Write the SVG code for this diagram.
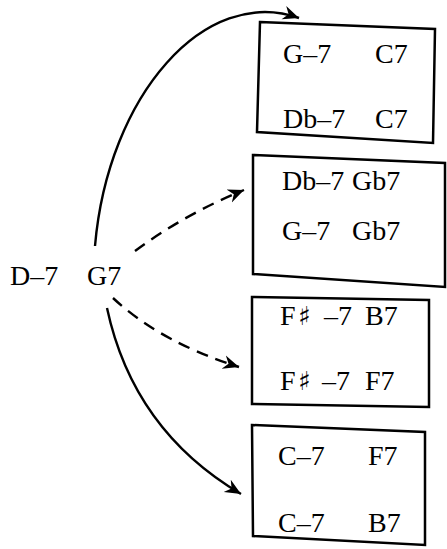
<svg xmlns="http://www.w3.org/2000/svg" width="447" height="549" viewBox="0 0 447 549">
<style>
  .t { font-family: "Liberation Serif", "Times New Roman", serif; font-size: 28px; fill: #000; }
  .sh { font-family: "DejaVu Serif", "DejaVu Sans", serif; font-weight: bold; font-size: 26px; }
  .box { fill: #fff; stroke: #000; stroke-width: 2.5; stroke-linejoin: miter; }
  .c { fill: none; stroke: #000; stroke-width: 2.4; }
  .d { stroke-dasharray: 12 8; }
</style>
<defs>
  <marker id="ah" markerUnits="userSpaceOnUse" markerWidth="20" markerHeight="16" refX="16" refY="7" orient="auto" viewBox="0 0 20 14">
    <path d="M0,0 L16,7 L0,14 L5,7 Z" fill="#000"/>
  </marker>
</defs>
<rect width="447" height="549" fill="#fff"/>
<g id="connectors">
  <path class="c" d="M95,246 C108,95 205,-15 299,18" marker-end="url(#ah)"/>
  <path class="c d" d="M135,251 Q185,214 244,190" marker-end="url(#ah)"/>
  <path class="c d" d="M113,298 Q160,342 239,367" marker-end="url(#ah)"/>
  <path class="c" d="M107,308 C125,392 170,452 241,494" marker-end="url(#ah)"/>
</g>
<g id="source">
  <text class="t" x="10" y="285">D–7</text>
  <text class="t" x="87" y="285">G7</text>
</g>
<g id="box1">
  <polygon class="box" points="260,22 435,29 433,143 257,132"/>
  <text class="t" x="283" y="63">G–7</text>
  <text class="t" x="375" y="63">C7</text>
  <text class="t" x="283" y="128">Db–7</text>
  <text class="t" x="375" y="128">C7</text>
</g>
<g id="box2">
  <polygon class="box" points="253,155 445,163 445,287 253,274"/>
  <text class="t" x="282" y="190">Db–7</text>
  <text class="t" x="352" y="190">Gb7</text>
  <text class="t" x="282" y="240">G–7</text>
  <text class="t" x="352" y="240">Gb7</text>
</g>
<g id="box3">
  <polygon class="box" points="252,297 429,300 429,407 252,404"/>
  <text class="t" y="325"><tspan x="280">F</tspan><tspan class="sh" x="298">♯</tspan><tspan x="324">–7</tspan><tspan x="365">B7</tspan></text>
  <text class="t" y="390"><tspan x="280">F</tspan><tspan class="sh" x="298">♯</tspan><tspan x="322">–7</tspan><tspan x="365">F7</tspan></text>
</g>
<g id="box4">
  <polygon class="box" points="252,425 425,432 425,545 253,536"/>
  <text class="t" x="278" y="465">C–7</text>
  <text class="t" x="368" y="465">F7</text>
  <text class="t" x="278" y="532">C–7</text>
  <text class="t" x="368" y="532">B7</text>
</g>
</svg>
